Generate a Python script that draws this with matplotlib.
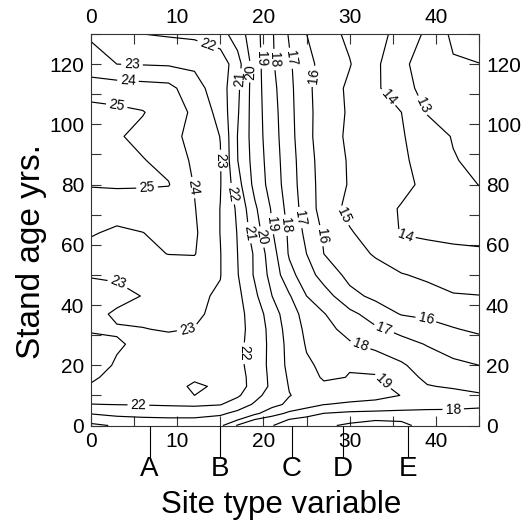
import matplotlib
matplotlib.use('Agg')
import matplotlib.pyplot as plt
from matplotlib.ticker import MultipleLocator
import numpy as np

plt.rcParams['font.family'] = ['Liberation Sans', 'DejaVu Sans']

# grid: site type variable (x) and stand age (y)
site_x = [0, 3, 6, 9, 12, 15, 17, 19, 21, 23, 25, 27, 30, 33, 36, 39, 42, 45]
age_y = [0, 2, 4, 7, 10, 13, 16, 20, 27, 32, 37, 43, 50, 57, 64, 72, 80, 88,
         96, 104, 112, 120, 130]

# estimated surface values, one row per stand age
z_rows = [
    [19.8, 20.1, 20.3, 20.4, 20.35, 20.2, 18.9, 18.5, 18.02, 17.75, 17.45, 17.15, 16.85, 16.75, 16.9, 17.15, 17.25, 17.3],
    [20.4, 20.65, 20.8, 20.85, 20.85, 20.7, 20.1, 19.0, 18.49, 17.98, 17.7, 17.5, 17.25, 17.05, 17.05, 17.3, 17.4, 17.45],
    [21.05, 21.3, 21.35, 21.4, 21.4, 21.15, 20.76, 20.2, 19.43, 18.78, 18.4, 17.98, 17.8, 17.75, 17.7, 17.7, 17.75, 17.7],
    [21.98, 22.02, 22.05, 22.1, 22.15, 22.05, 21.48, 20.88, 20.3, 19.8, 19.4, 19.02, 18.85, 18.7, 18.55, 18.4, 18.3, 18.2],
    [22.43, 22.4, 22.35, 22.4, 23.0, 22.4, 22.15, 21.28, 20.6, 20.03, 19.75, 19.55, 19.4, 19.3, 18.98, 18.5, 18.3, 18.1],
    [22.97, 22.85, 22.75, 22.75, 23.1, 22.9, 22.35, 21.68, 20.78, 19.95, 19.45, 19.15, 19.15, 19.3, 18.68, 18.05, 17.9, 17.75],
    [23.05, 22.9, 22.75, 22.7, 22.9, 22.55, 22.35, 21.65, 20.75, 19.87, 19.35, 18.9, 19.02, 19.1, 18.41, 17.8, 17.58, 17.43],
    [23.2, 22.95, 22.8, 22.7, 22.7, 22.5, 22.25, 21.6, 20.7, 19.75, 19.12, 18.85, 18.97, 18.67, 18.14, 17.47, 17.19, 17.0],
    [23.15, 23.05, 22.9, 22.8, 22.7, 22.5, 22.25, 21.6, 20.72, 19.68, 18.92, 18.6, 18.1, 17.71, 17.3, 16.95, 16.6, 16.3],
    [22.95, 22.95, 22.98, 23.05, 22.98, 22.6, 22.3, 21.64, 20.65, 19.57, 18.8, 18.3, 17.69, 17.15, 16.75, 16.4, 16.05, 15.85],
    [22.8, 23.1, 23.15, 23.15, 23.12, 22.81, 22.3, 21.56, 20.47, 19.42, 18.65, 18.05, 17.28, 16.51, 15.95, 15.8, 15.65, 15.48],
    [22.7, 22.8, 23.02, 23.15, 23.15, 22.9, 22.25, 21.2, 20.0, 19.09, 18.0, 17.47, 16.25, 15.8, 15.5, 15.3, 15.05, 15.02],
    [23.05, 23.1, 23.2, 23.35, 23.4, 23.03, 22.05, 20.88, 19.65, 18.31, 17.47, 16.57, 15.75, 15.4, 15.05, 14.85, 14.7, 14.58],
    [23.6, 23.65, 23.8, 24.02, 24.05, 23.03, 22.0, 20.87, 19.42, 17.89, 17.0, 16.0, 15.4, 14.9, 14.48, 14.2, 14.13, 14.12],
    [24.1, 23.8, 23.99, 24.2, 24.15, 22.98, 21.95, 20.5, 19.08, 17.83, 16.75, 15.88, 15.1, 14.5, 13.95, 13.9, 13.85, 13.77],
    [24.58, 24.5, 24.4, 24.3, 24.05, 22.98, 21.83, 20.17, 18.88, 17.63, 16.5, 15.6, 14.7, 14.3, 13.94, 13.75, 13.6, 13.4],
    [25.05, 25.1, 25.1, 25.05, 23.95, 23.05, 21.38, 19.7, 18.58, 17.5, 16.4, 15.64, 14.92, 14.55, 14.2, 13.82, 13.4, 12.98],
    [25.35, 25.25, 25.05, 24.7, 23.8, 23.05, 21.02, 19.59, 18.5, 17.44, 16.35, 15.61, 14.9, 14.55, 14.15, 13.65, 13.05, 12.82],
    [25.3, 25.1, 24.74, 24.3, 23.71, 22.98, 20.98, 19.5, 18.43, 17.35, 16.25, 15.55, 14.8, 14.5, 14.1, 13.39, 12.95, 12.6],
    [25.3, 25.2, 25.05, 24.51, 23.82, 22.65, 21.1, 19.47, 18.38, 17.29, 16.25, 15.58, 14.87, 14.45, 14.0, 12.95, 12.7, 12.45],
    [24.6, 24.5, 24.4, 24.3, 23.35, 22.5, 21.2, 19.47, 18.28, 17.25, 16.2, 15.58, 14.81, 14.2, 13.22, 12.79, 12.5, 12.25],
    [23.3, 23.0, 22.95, 22.9, 22.85, 22.6, 21.4, 19.5, 18.13, 17.14, 16.26, 15.71, 15.05, 14.19, 13.2, 12.55, 12.1, 12.02],
    [22.9, 22.5, 22.0, 21.9, 21.8, 21.4, 20.5, 19.4, 18.1, 16.9, 16.0, 15.4, 14.8, 14.3, 13.7, 12.8, 11.8, 11.5],
]

levels = list(range(12, 26))

# where the contour numbers sit
label_pos = [
    (13.4, 125.5), (4.75, 119.5), (4.3, 115), (3, 106.5), (6.5, 79), (11.9, 79),
    (15.0, 88), (16.5, 77), (17.4, 115), (18.4, 117.5), (19.7, 122), (21.2, 121.5),
    (23.3, 122), (25.6, 116), (34.5, 109), (38.2, 106), (29.2, 69.5), (36.4, 62.5),
    (18.3, 64), (19.8, 62.6), (21.0, 67), (22.6, 66.5), (24.2, 69), (26.6, 63),
    (3.2, 47.7), (11.2, 32), (17.8, 24), (5.5, 6.8), (34.0, 32.3), (38.8, 34.5),
    (31.2, 26.4), (34.0, 15), (42, 5.6),
]

letters = ['A', 'B', 'C', 'D', 'E']
letter_x = [6.8, 15.0, 23.3, 29.2, 36.8]

Z = np.array(z_rows)

fig = plt.figure(figsize=(5.28, 5.23), dpi=100)
ax = fig.add_axes([0.1723, 0.1864, 0.735, 0.7486])

cs = ax.contour(site_x, age_y, Z, levels=levels, colors='black', linewidths=0.85)
ax.clabel(cs, fmt='%d', fontsize=10, inline=True, inline_spacing=3, manual=label_pos)

ax.set_xlim(0, 45)
ax.set_ylim(0, 130)

ax.xaxis.set_major_locator(MultipleLocator(10))
ax.xaxis.set_minor_locator(MultipleLocator(5))
ax.yaxis.set_major_locator(MultipleLocator(20))
ax.yaxis.set_minor_locator(MultipleLocator(10))
ax.tick_params(which='both', direction='in', length=7, width=0.8,
               top=True, right=True, labeltop=True, labelright=True,
               labelsize=15, color='#333333')
ax.tick_params(axis='x', which='major', pad=5)
ax.tick_params(axis='y', which='major', pad=5)
for sp in ax.spines.values():
    sp.set_linewidth(0.8)
    sp.set_color('#333333')

# site type markers under the axis
trans = ax.get_xaxis_transform()
ax.vlines(letter_x, -0.08, 0, transform=trans, colors='black', linewidth=0.8,
          clip_on=False, zorder=5)
for s, x in zip(letters, letter_x):
    ax.text(x, -0.11, s, transform=trans, ha='center', va='center', fontsize=20)

fig.text(281 / 528, 1 - 505 / 523, 'Site type variable', ha='center', va='center',
         fontsize=22.5)
fig.text(32 / 528, 1 - 252 / 523, 'Stand age yrs.', ha='center', va='center',
         rotation=90, fontsize=24)

fig.savefig('out.png', dpi=100)
